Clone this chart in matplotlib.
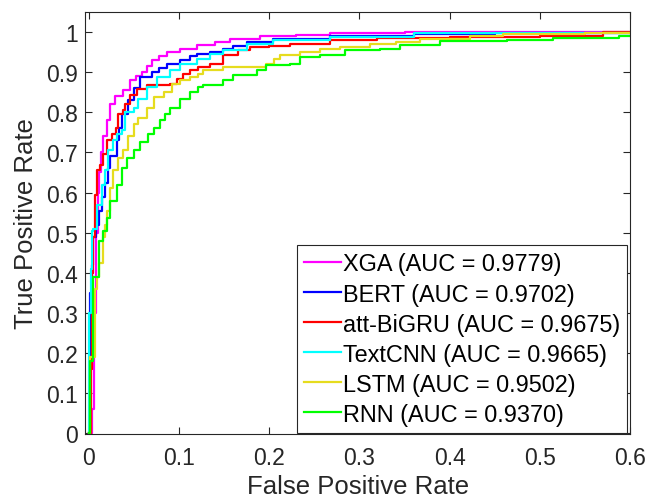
import matplotlib
matplotlib.use('Agg')
import matplotlib.pyplot as plt

plt.rcParams['font.family'] = ['Liberation Sans', 'DejaVu Sans']

# ROC points (false positive rate, true positive rate)
xga_fpr = [0, 0.004, 0.006, 0.008, 0.010, 0.012, 0.014, 0.016, 0.020, 0.024, 0.029, 0.038,
           0.046, 0.052, 0.059, 0.065, 0.070, 0.078, 0.087, 0.101, 0.120, 0.140, 0.157,
           0.190, 0.230, 0.267, 0.350, 0.6]
xga_tpr = [0, 0.06, 0.30, 0.50, 0.60, 0.65, 0.70, 0.74, 0.78, 0.82, 0.84, 0.855,
           0.88, 0.89, 0.90, 0.915, 0.93, 0.94, 0.95, 0.957, 0.967, 0.975, 0.982,
           0.99, 0.993, 0.998, 1.0, 1.0]

bert_fpr = [0, 0.002, 0.004, 0.005, 0.008, 0.011, 0.015, 0.018, 0.021, 0.024, 0.031, 0.034,
            0.037, 0.044, 0.050, 0.057, 0.070, 0.078, 0.087, 0.101, 0.112, 0.120, 0.135,
            0.149, 0.160, 0.175, 0.204, 0.267, 0.360, 0.450, 0.6]
bert_tpr = [0, 0.35, 0.42, 0.49, 0.52, 0.555, 0.59, 0.625, 0.66, 0.69, 0.73, 0.76,
            0.795, 0.83, 0.86, 0.887, 0.90, 0.91, 0.92, 0.93, 0.94, 0.945, 0.95,
            0.957, 0.965, 0.975, 0.982, 0.99, 0.995, 0.998, 0.998]

bigru_fpr = [0, 0.003, 0.004, 0.005, 0.007, 0.009, 0.013, 0.016, 0.020, 0.026, 0.030, 0.033,
             0.038, 0.040, 0.046, 0.054, 0.065, 0.090, 0.098, 0.105, 0.112, 0.121, 0.135,
             0.149, 0.165, 0.179, 0.200, 0.223, 0.267, 0.320, 0.400, 0.500, 0.570, 0.6]
bigru_tpr = [0, 0.16, 0.40, 0.49, 0.595, 0.655, 0.668, 0.695, 0.73, 0.745, 0.76, 0.795,
             0.805, 0.82, 0.843, 0.858, 0.867, 0.87, 0.883, 0.895, 0.905, 0.912, 0.92,
             0.943, 0.955, 0.962, 0.966, 0.97, 0.98, 0.985, 0.988, 0.99, 1.0, 1.0]

textcnn_fpr = [0, 0.0005, 0.003, 0.004, 0.005, 0.009, 0.015, 0.018, 0.022, 0.027, 0.031,
               0.037, 0.040, 0.050, 0.055, 0.065, 0.076, 0.090, 0.101, 0.120, 0.135, 0.149,
               0.175, 0.204, 0.267, 0.360, 0.6]
textcnn_tpr = [0, 0.30, 0.41, 0.505, 0.51, 0.57, 0.62, 0.657, 0.707, 0.73, 0.745,
               0.755, 0.80, 0.81, 0.832, 0.862, 0.887, 0.905, 0.92, 0.932, 0.945, 0.955,
               0.97, 0.98, 0.988, 0.997, 0.997]

lstm_fpr = [0, 0.002, 0.007, 0.009, 0.011, 0.016, 0.018, 0.020, 0.024, 0.027, 0.033, 0.038,
            0.044, 0.050, 0.055, 0.065, 0.072, 0.083, 0.092, 0.101, 0.112, 0.121, 0.127,
            0.149, 0.197, 0.205, 0.212, 0.234, 0.256, 0.278, 0.312, 0.340, 0.367, 0.422,
            0.459, 0.550, 0.6]
lstm_tpr = [0, 0.19, 0.36, 0.39, 0.425, 0.49, 0.52, 0.555, 0.612, 0.655, 0.687, 0.705,
            0.742, 0.77, 0.787, 0.812, 0.837, 0.85, 0.87, 0.88, 0.887, 0.895, 0.905,
            0.912, 0.92, 0.932, 0.943, 0.95, 0.957, 0.962, 0.97, 0.975, 0.982, 0.99,
            0.995, 0.998, 0.998]

rnn_fpr = [0, 0.002, 0.005, 0.012, 0.016, 0.020, 0.024, 0.031, 0.037, 0.042, 0.050, 0.057,
           0.066, 0.072, 0.079, 0.085, 0.090, 0.101, 0.112, 0.121, 0.127, 0.149, 0.160,
           0.186, 0.197, 0.223, 0.234, 0.256, 0.284, 0.323, 0.345, 0.389, 0.463, 0.514,
           0.588, 0.6]
rnn_tpr = [0, 0.18, 0.39, 0.48, 0.505, 0.537, 0.58, 0.62, 0.662, 0.687, 0.707, 0.725,
           0.745, 0.76, 0.78, 0.795, 0.812, 0.832, 0.85, 0.862, 0.867, 0.88, 0.892,
           0.905, 0.917, 0.92, 0.937, 0.942, 0.955, 0.957, 0.967, 0.977, 0.98, 0.985,
           0.99, 0.99]

labels = ['XGA (AUC = 0.9779)', 'BERT (AUC = 0.9702)', 'att-BiGRU (AUC = 0.9675)',
          'TextCNN (AUC = 0.9665)', 'LSTM (AUC = 0.9502)', 'RNN (AUC = 0.9370)']
colors = ['#FF00FF', '#0000FF', '#FF0000', '#00FFFF', '#E6DC1E', '#00FF00']

curves = [(xga_fpr, xga_tpr), (bert_fpr, bert_tpr), (bigru_fpr, bigru_tpr),
          (textcnn_fpr, textcnn_tpr), (lstm_fpr, lstm_tpr), (rnn_fpr, rnn_tpr)]

fig = plt.figure(figsize=(6.49, 5.02), dpi=100)
ax = fig.add_axes([0.131, 0.1335, 0.840, 0.8405])

for (fpr, tpr), lab, col in zip(curves, labels, colors):
    ax.plot(fpr, tpr, drawstyle='steps-post', color=col, linewidth=1.6, label=lab)

axis_gray = '#262626'
ax.set_xlim(-0.004, 0.6)
ax.set_ylim(-0.002, 1.05)
ax.set_xticks([0, 0.1, 0.2, 0.3, 0.4, 0.5, 0.6])
ax.set_xticklabels(['0', '0.1', '0.2', '0.3', '0.4', '0.5', '0.6'])
ax.set_yticks([i / 10 for i in range(11)])
ax.set_yticklabels(['0'] + ['0.%d' % i for i in range(1, 10)] + ['1'])
ax.tick_params(direction='in', top=True, right=True, length=5, width=0.8,
               colors=axis_gray, labelsize=16.5)
ax.tick_params(axis='x', pad=9)
ax.tick_params(axis='y', pad=5)
for sp in ax.spines.values():
    sp.set_color(axis_gray)
    sp.set_linewidth(0.8)

ax.set_xlabel('False Positive Rate', fontsize=18.5, color=axis_gray, labelpad=3)
ax.set_ylabel('True Positive Rate', fontsize=18.5, color=axis_gray, labelpad=6)

leg = ax.legend(loc='lower right', bbox_to_anchor=(0.995, 0.003), borderaxespad=0,
                fontsize=16.9, handlelength=1.55, handletextpad=0.1, labelspacing=0.3,
                borderpad=0.3, fancybox=False, framealpha=1, edgecolor=axis_gray)
leg.get_frame().set_linewidth(0.8)
for t in leg.get_texts():
    t.set_color('black')

fig.savefig('out.png', dpi=100)
